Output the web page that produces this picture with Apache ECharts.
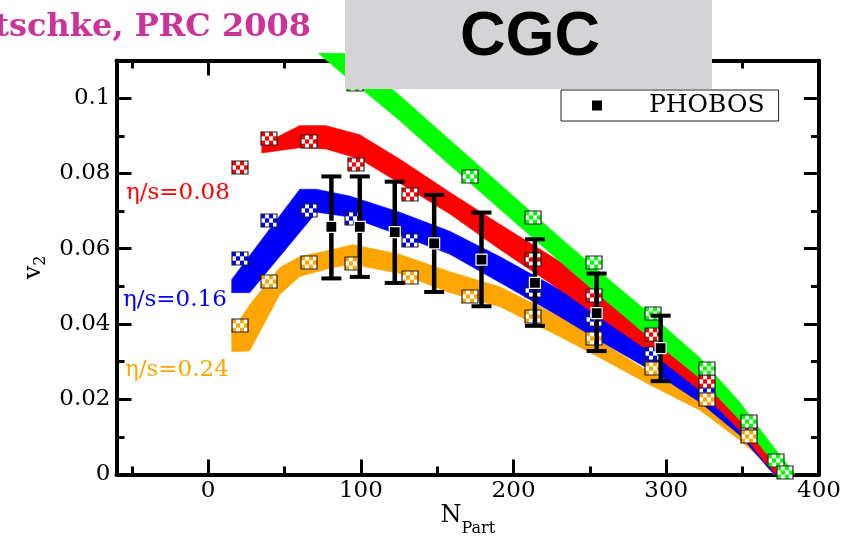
<!DOCTYPE html>
<html><head><meta charset="utf-8">
<script src="https://cdn.jsdelivr.net/npm/echarts@6/dist/echarts.min.js"></script>
<style>html,body{margin:0;padding:0;background:#fff}#c{width:858px;height:537px}</style>
</head><body><div id="c"></div>
<script>
// ---- axis ticks ----
const xMajor = [0, 100, 200, 300, 400];
const xMinor = [-50, 50, 150, 250, 350];
const yMajor = [0, 0.02, 0.04, 0.06, 0.08, 0.1];
const yMinor = [0.01, 0.03, 0.05, 0.07, 0.09];

// ---- hydro bands: upper and lower edges [N_part, v2] ----
const greenUpper = [[72.2,0.1119],[91.4,0.1119],[125.5,0.1007],[158.3,0.0889],[191.0,0.0772],[230.3,0.0630],[256.5,0.0539],[289.3,0.0427],[322.0,0.0310],[348.2,0.0192],[368.0,0.0085],[384.4,0]];
const greenLower = [[72.2,0.1119],[89.2,0.1060],[100.3,0.1025],[125.5,0.0940],[158.3,0.0822],[191.0,0.0705],[230.3,0.0566],[256.5,0.0475],[289.3,0.0363],[322.0,0.0256],[348.2,0.0144],[368.0,0.0043],[377.9,0]];

const redUpper = [[35.1,0.0876],[60.0,0.0927],[77.0,0.0927],[99.3,0.0903],[125.5,0.0838],[158.3,0.0750],[191.0,0.0665],[230.3,0.0566],[256.5,0.0486],[289.3,0.0393],[322.0,0.0272],[348.2,0.0158],[364.7,0.0064],[374.5,0]];
const redLower = [[35.1,0.0854],[60.0,0.0868],[77.0,0.0865],[99.3,0.0838],[125.5,0.0774],[158.3,0.0692],[191.0,0.0598],[230.3,0.0491],[256.5,0.0417],[289.3,0.0326],[322.0,0.0224],[348.2,0.0117],[364.7,0.0032],[372.0,0]];

const blueUpper = [[15.4,0.0518],[27.2,0.0582],[60.0,0.0758],[71.0,0.0758],[92.7,0.0740],[125.5,0.0697],[158.3,0.0646],[191.0,0.0579],[230.3,0.0491],[256.5,0.0425],[289.3,0.0336],[322.0,0.0230],[348.2,0.0131],[368.0,0.0024],[373.2,0]];
const blueLower = [[15.4,0.0483],[27.2,0.0483],[71.0,0.0697],[92.7,0.0684],[125.5,0.0636],[158.3,0.0585],[191.0,0.0510],[230.3,0.0419],[256.5,0.0355],[289.3,0.0278],[322.0,0.0192],[348.2,0.0104],[368.0,0.0011],[371.0,0]];

const orangeUpper = [[15.4,0.0379],[27.2,0.0451],[46.9,0.0550],[60.0,0.0579],[81.6,0.0598],[94.7,0.0611],[125.5,0.0585],[158.3,0.0539],[191.0,0.0499],[230.3,0.0419],[256.5,0.0355],[289.3,0.0272],[322.0,0.0198],[348.2,0.0112],[368.0,0.0032],[371.5,0]];
const orangeLower = [[15.4,0.0326],[27.2,0.0328],[46.9,0.0478],[60.0,0.0526],[81.6,0.0550],[94.7,0.0558],[125.5,0.0534],[158.3,0.0483],[191.0,0.0446],[230.3,0.0366],[256.5,0.0310],[289.3,0.0238],[322.0,0.0171],[348.2,0.0091],[368.0,0.0019],[370.0,0]];

// ---- checkered model points [N_part, v2] ----
const redPts = [[20.6,0.0816],[39.8,0.0892],[66,0.0885],[97,0.0825],[132.5,0.0745],[212.4,0.0570],[252.6,0.0476],[291.5,0.0371],[326.5,0.0248],[354.4,0.0119]];
const bluePts = [[20.6,0.0575],[39.8,0.0676],[66,0.0702],[95,0.0680],[132.5,0.0623],[212.4,0.0489],[252.6,0.0411],[291.5,0.0322],[326.5,0.0224]];
const orangePts = [[20.6,0.0396],[39.8,0.0514],[66,0.0564],[95,0.0560],[132.5,0.0524],[171.8,0.0473],[212.4,0.0420],[252.6,0.0362],[291.5,0.0282],[326.5,0.0198],[354.4,0.0100]];
const greenPts = [[96,0.1036],[171.8,0.0791],[212.4,0.0684],[252.6,0.0563],[291.5,0.0429],[326.5,0.0282],[354.4,0.0140],[371.7,0.0037],[377.8,0.0006]];

// ---- PHOBOS data [N_part, v2, low, high] ----
const phobos = [[80.7,0.0658,0.0521,0.0792],[99.3,0.0658,0.0525,0.0792],[122.2,0.0644,0.0509,0.0778],[148.0,0.0614,0.0485,0.0743],[179.0,0.0571,0.0447,0.0696],[214.0,0.0509,0.0395,0.0625],[254.4,0.0429,0.0328,0.0534],[296.3,0.0336,0.0248,0.0422]];

const SERIF = 'DejaVu Serif';
const chart = echarts.init(document.getElementById('c'), null, {renderer:'canvas'});

function bandSeries(name, upper, lower, color, z){
  return {
    type:'custom', name:name, z:z, silent:true,
    data: upper,
    encode:{x:0, y:1},
    renderItem: function(params, api){
      if (params.dataIndex !== 0) return null;
      const pts = upper.concat(lower.slice().reverse()).map(p => api.coord(p));
      return {type:'polygon', shape:{points:pts}, style:{fill:color, stroke:color, lineWidth:0.5}};
    }
  };
}
function markerSeries(name, pts, color, z){
  return {
    type:'custom', name:name, z:z, silent:true,
    data: pts, encode:{x:0, y:1},
    renderItem: function(params, api){
      const p = api.coord([api.value(0), api.value(1)]);
      const w = 16, h = 13;
      const x0 = Math.round(p[0] - w/2), y0 = Math.round(p[1] - h/2);
      const ch = [{type:'rect', shape:{x:x0, y:y0, width:w, height:h}, style:{fill:'#fff'}}];
      const cols = 4, rows = 3, cw = w/cols, rh = h/rows;
      for (let i = 0; i < rows; i++) for (let j = 0; j < cols; j++) {
        if ((i + j) % 2 === 0) ch.push({type:'rect', shape:{x:x0 + j*cw, y:y0 + i*rh, width:cw, height:rh}, style:{fill:color}});
      }
      ch.push({type:'rect', shape:{x:x0, y:y0, width:w, height:h}, style:{fill:'none', stroke:'#222', lineWidth:1.2}});
      return {type:'group', children:ch};
    }
  };
}
function xAx(pos, ticks, len, showLine, labels, extra){
  return Object.assign({
    type:'value', min:-60, max:400, position:pos, gridIndex:0,
    axisLine:{show:showLine, onZero:false, lineStyle:{color:'#000', width:4}},
    axisTick:{show:true, inside:true, length:len, customValues:ticks, lineStyle:{color:'#000', width:3}},
    axisLabel:{show:!!labels, customValues:labels || ticks, margin:5, fontFamily:SERIF, fontSize:23, color:'#000'},
    splitLine:{show:false}
  }, extra || {});
}
function yAx(pos, ticks, len, showLine, labels, extra){
  return Object.assign({
    type:'value', min:0, max:0.11, position:pos, gridIndex:0,
    axisLine:{show:showLine, onZero:false, lineStyle:{color:'#000', width:4}},
    axisTick:{show:true, inside:true, length:len, customValues:ticks, lineStyle:{color:'#000', width:3}},
    axisLabel:{show:!!labels, customValues:labels || ticks, margin:6, fontFamily:SERIF, fontSize:23, color:'#000',
      formatter: v => (v === 0 ? '0' : String(v))},
    splitLine:{show:false}
  }, extra || {});
}

const option = {
  animation:false,
  backgroundColor:'#fff',
  grid:{left:116.5, right:39, top:60.5, bottom:62.5, containLabel:false, outerBoundsMode:'none'},
  xAxis:[
    xAx('bottom', xMajor, 15, true, xMajor, {
      name:'{n|N}{p|Part}', nameLocation:'middle', nameGap:28, nameMoveOverlap:false,
      nameTextStyle:{rich:{
        n:{fontFamily:SERIF, fontSize:24, lineHeight:26, color:'#000'},
        p:{fontFamily:SERIF, fontSize:16, lineHeight:16, color:'#000', padding:[26,0,0,0]}
      }}
    }),
    xAx('bottom', xMinor, 8, false, null),
    xAx('top', xMajor, 15, true, null),
    xAx('top', xMinor, 8, false, null)
  ],
  yAxis:[
    yAx('left', yMajor, 15, true, yMajor, {
      name:'{v|v}{s|2}', nameLocation:'middle', nameGap:62, nameRotate:90,
      nameTextStyle:{rich:{
        v:{fontFamily:SERIF, fontSize:24, lineHeight:26, color:'#000'},
        s:{fontFamily:SERIF, fontSize:16, lineHeight:16, color:'#000', padding:[14,0,0,0]}
      }}
    }),
    yAx('left', yMinor, 8, false, null),
    yAx('right', yMajor, 15, true, null),
    yAx('right', yMinor, 8, false, null)
  ],
  legend:{
    data:['PHOBOS'], left:561, top:90, backgroundColor:'#fff', borderColor:'#222', borderWidth:1, borderRadius:0,
    padding:[3,14,3,31], itemWidth:10, itemHeight:10, icon:'rect', selectedMode:false,
    itemStyle:{color:'#000', borderWidth:0},
    formatter:'{a|PHOBOS}',
    textStyle:{rich:{a:{fontFamily:SERIF, fontSize:25, lineHeight:25, color:'#000', padding:[0,0,0,42]}}}
  },
  series:[
    bandSeries('eta/s=0.24', orangeUpper, orangeLower, '#ffa500', 2),
    bandSeries('eta/s=0.16', blueUpper, blueLower, '#0000ff', 2.1),
    bandSeries('eta/s=0.08', redUpper, redLower, '#ff0000', 2.2),
    bandSeries('ideal', greenUpper, greenLower, '#00ff00', 2.3),
    markerSeries('blue pts', bluePts, '#0000ff', 3),
    markerSeries('red pts', redPts, '#ff0000', 3.1),
    markerSeries('orange pts', orangePts, '#ffa500', 3.2),
    markerSeries('green pts', greenPts, '#00ff00', 3.3),
    {
      type:'custom', name:'PHOBOS err', z:5, silent:true,
      data: phobos, encode:{x:0, y:[1,2,3]},
      renderItem: function(params, api){
        const x = api.value(0);
        const a = api.coord([x, api.value(2)]), b = api.coord([x, api.value(3)]);
        const st = {stroke:'#000', lineWidth:4.5};
        const cs = {stroke:'#000', lineWidth:4};
        return {type:'group', children:[
          {type:'line', shape:{x1:a[0], y1:a[1], x2:b[0], y2:b[1]}, style:st},
          {type:'line', shape:{x1:a[0]-10, y1:a[1], x2:a[0]+10, y2:a[1]}, style:cs},
          {type:'line', shape:{x1:b[0]-10, y1:b[1], x2:b[0]+10, y2:b[1]}, style:cs}
        ]};
      }
    },
    {
      type:'scatter', name:'PHOBOS', z:6, symbol:'rect', symbolSize:11,
      data: phobos.map(d => [d[0], d[1]]),
      itemStyle:{color:'#000', borderColor:'#fff', borderWidth:1.2, opacity:1}
    }
  ],
  graphic:[
    {type:'text', z:50, style:{text:'Luzum & Romatschke, PRC 2008', x:311, y:28, align:'right', verticalAlign:'middle',
      fontFamily:SERIF, fontWeight:'bold', fontSize:32, fill:'#cc3399'}},
    {type:'rect', z:100, shape:{x:345, y:0, width:367, height:89}, style:{fill:'#d4d4d6'}},
    {type:'text', z:101, style:{text:'CGC', x:530, y:38, align:'center', verticalAlign:'middle',
      fontFamily:'Liberation Sans', fontWeight:'bold', fontSize:63, fill:'#000'}},
    {type:'text', z:50, style:{text:'η/s=0.08', x:126, y:193, align:'left', verticalAlign:'middle', fontFamily:SERIF, fontSize:23, fill:'#ff0000'}},
    {type:'text', z:50, style:{text:'η/s=0.16', x:123, y:300, align:'left', verticalAlign:'middle', fontFamily:SERIF, fontSize:23, fill:'#0000ff'}},
    {type:'text', z:50, style:{text:'η/s=0.24', x:125, y:370, align:'left', verticalAlign:'middle', fontFamily:SERIF, fontSize:23, fill:'#ffa500'}}
  ]
};
chart.setOption(option);
</script></body></html>
